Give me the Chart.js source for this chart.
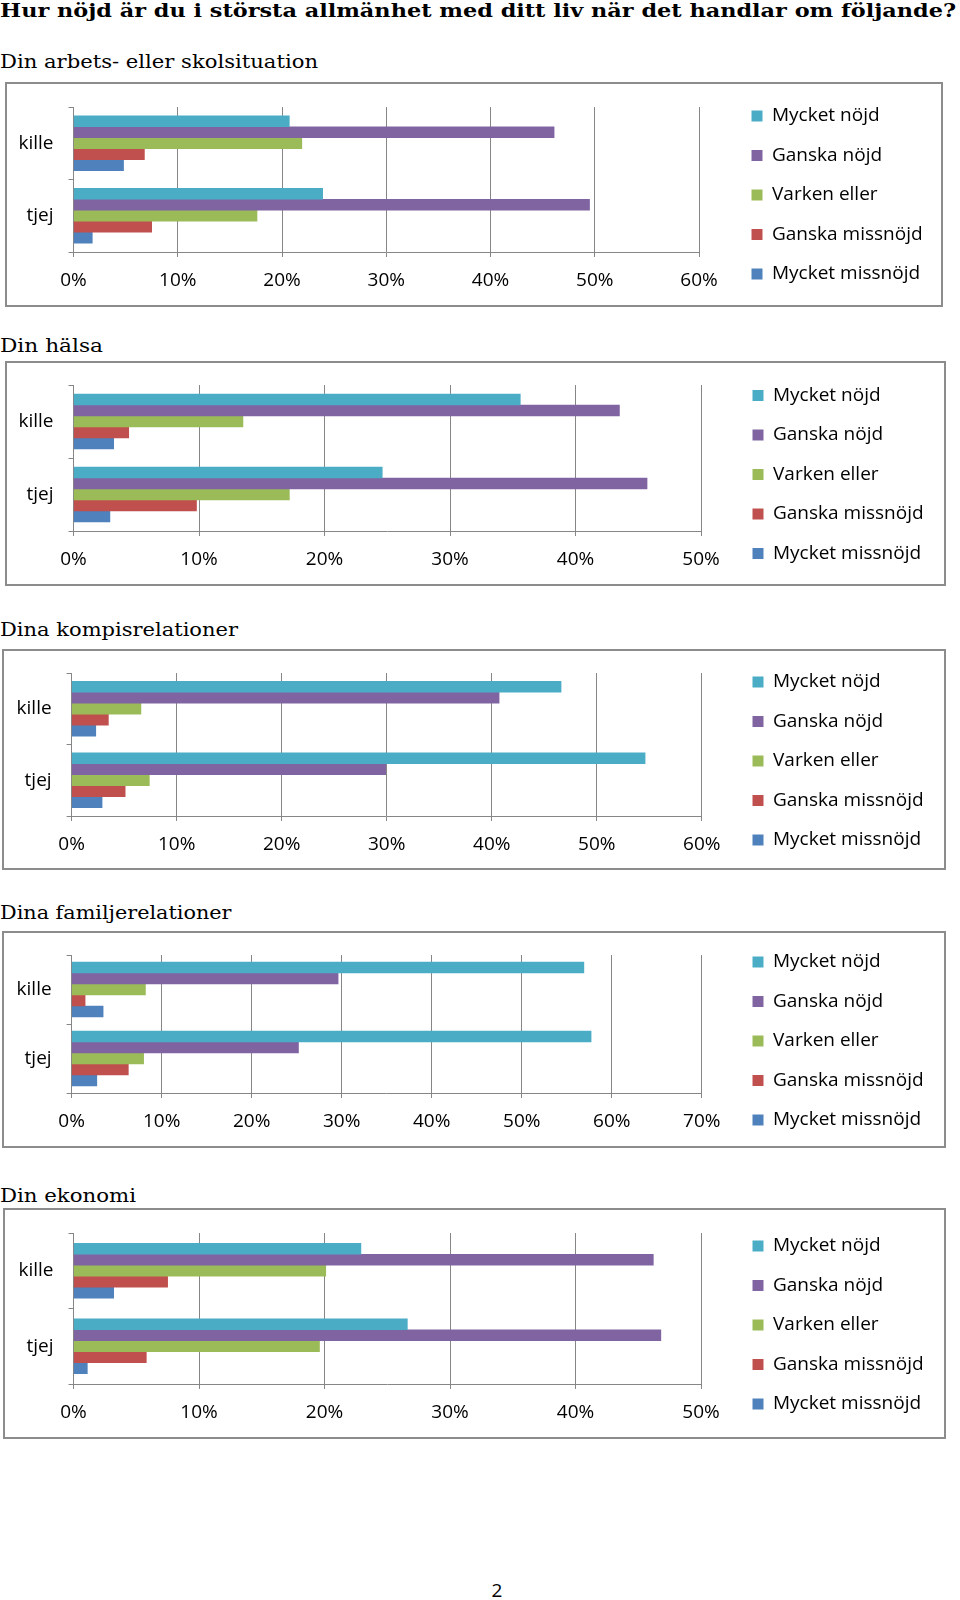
<!DOCTYPE html>
<html>
<head>
<meta charset="utf-8">
<script src="https://cdn.jsdelivr.net/npm/chart.js@4.4.1/dist/chart.umd.min.js"></script>
<style>
html,body{margin:0;padding:0;background:#fff;}
body{width:960px;height:1600px;position:relative;overflow:hidden;}
.t{position:absolute;white-space:nowrap;transform-origin:0 0;color:#000;line-height:1;}
.main{font-family:"DejaVu Serif";font-weight:bold;font-size:19px;}
.sec{font-family:"DejaVu Serif";font-weight:normal;font-size:19px;}
.pg{font-family:"Open Sans";font-size:19px;}
.box{position:absolute;border:2px solid #8c8c8c;box-sizing:border-box;background:#fff;}
.box canvas{position:absolute;left:0;top:0;}
</style>
</head>
<body>
<script>
// ---------------- data ----------------
const pageTitle = 'Hur nöjd är du i största allmänhet med ditt liv när det handlar om följande?';
const pageNumber = '2';
const categories = ['kille', 'tjej'];
const seriesNames = ['Mycket nöjd', 'Ganska nöjd', 'Varken eller', 'Ganska missnöjd', 'Mycket missnöjd'];
const seriesColors = ['#4BACC6', '#8064A2', '#9BBB59', '#C0504D', '#4F81BD'];
const chartTitles = ['Din arbets- eller skolsituation', 'Din hälsa', 'Dina kompisrelationer', 'Dina familjerelationer', 'Din ekonomi'];
const axisMaxima = [60, 50, 60, 70, 50];
const tickStep = 10;

// values in % (order follows seriesNames)
const arbeteKille  = [20.7, 46.1, 21.9, 6.8, 4.8];
const arbeteTjej   = [23.9, 49.5, 17.6, 7.5, 1.8];
const halsaKille   = [35.6, 43.5, 13.5, 4.4, 3.2];
const halsaTjej    = [24.6, 45.7, 17.2, 9.8, 2.9];
const kompisKille  = [46.6, 40.7, 6.6, 3.5, 2.3];
const kompisTjej   = [54.6, 29.9, 7.4, 5.1, 2.9];
const familjKille  = [56.9, 29.6, 8.2, 1.5, 3.5];
const familjTjej   = [57.7, 25.2, 8.0, 6.3, 2.8];
const ekonomiKille = [22.9, 46.2, 20.1, 7.5, 3.2];
const ekonomiTjej  = [26.6, 46.8, 19.6, 5.8, 1.1];

// ---------------- layout (page pixels) ----------------
const layout = [
  {box:[5,82,943,307],    plot:[73.5,107,699,252],    legendX:751.5, legendY:116,   titleBase:68,   titleW:318},
  {box:[5,361,946,586],   plot:[73.5,385,701,531],    legendX:752.5, legendY:395.5, titleBase:352,  titleW:103},
  {box:[2,649,946,870],   plot:[71.6,673,701.8,816],  legendX:752.5, legendY:682,   titleBase:636,  titleW:238},
  {box:[2,931,946,1148],  plot:[71.6,955,701.8,1093], legendX:752.5, legendY:962,   titleBase:919,  titleW:231.5},
  {box:[3,1208,946,1439], plot:[73.5,1233,701,1384],  legendX:752.5, legendY:1246,  titleBase:1202, titleW:136}
];
const GRID = '#868686';

function addText(text, cls, left, baseline, targetW, center) {
  const d = document.createElement('div');
  d.className = 't ' + cls;
  d.textContent = text;
  const mark = document.createElement('i');
  mark.style.cssText = 'display:inline-block;width:0;height:0;vertical-align:baseline;';
  d.appendChild(mark);
  document.body.appendChild(d);
  const w = d.getBoundingClientRect().width;
  const baseOff = mark.offsetTop;
  let sx = 1;
  if (targetW) sx = targetW / w;
  d.style.transform = 'scaleX(' + sx + ')';
  d.style.left = (center ? left - w * sx / 2 : left) + 'px';
  d.style.top = (baseline - baseOff) + 'px';
}

Chart.defaults.font.family = "'Open Sans', sans-serif";
Chart.defaults.font.size = 19;
Chart.defaults.color = '#000';

// keeps the legend at a fixed width and places its items
const legendPlace = {
  id: 'legendPlace',
  beforeLayout(chart, args, opts) {
    const lg = chart.legend;
    if (!lg || lg._placed) return;
    const fit = lg.fit;
    lg.fit = function () {
      const mh = this.maxHeight;
      this.maxHeight = 100000;
      fit.call(this);
      this.maxHeight = mh;
      this.width = opts.width;
      this.height = mh;
    };
    lg._placed = true;
  },
  afterLayout(chart, args, opts) {
    const lg = chart.legend;
    const p = lg.options.labels.padding;
    const w = lg.width;
    lg.left = opts.x - p;
    lg.right = lg.left + w;
    lg.top = opts.y - p;
    lg.bottom = lg.top + 2000;
  }
};

function makeChart(i, killeVals, tjejVals) {
  const L = layout[i];
  const [bl, bt, br, bb] = L.box;
  const [pl, pt, pr, pb] = L.plot;
  const div = document.createElement('div');
  div.className = 'box';
  div.style.left = bl + 'px';
  div.style.top = bt + 'px';
  div.style.width = (br - bl) + 'px';
  div.style.height = (bb - bt) + 'px';
  const cw = br - bl - 4, ch = bb - bt - 4;
  const ix = bl + 2, iy = bt + 2;
  const canvas = document.createElement('canvas');
  canvas.width = cw; canvas.height = ch;
  canvas.style.width = cw + 'px'; canvas.style.height = ch + 'px';
  div.appendChild(canvas);
  document.body.appendChild(div);

  const datasets = seriesNames.map((name, s) => ({
    label: name,
    data: [killeVals[s], tjejVals[s]],
    backgroundColor: seriesColors[s],
    borderWidth: 0,
    barThickness: 11,
    xAxisID: 'x',
    yAxisID: 'y'
  }));

  new Chart(canvas, {
    type: 'bar',
    data: { labels: categories, datasets },
    options: {
      indexAxis: 'y',
      responsive: false,
      animation: false,
      events: [],
      layout: { padding: { top: pt - iy, left: 0, right: 0, bottom: 0 } },
      scales: {
        x: {
          min: 0, max: axisMaxima[i],
          ticks: { stepSize: tickStep, callback: v => v + '%', color: '#000', font: { size: 19 }, padding: 12.5, maxRotation: 0 },
          grid: { color: GRID, lineWidth: 1, tickLength: 5, drawTicks: true },
          border: { color: GRID, width: 1 },
          afterFit(s) { s.height = (iy + ch) - pb; s.paddingLeft = 0; s.paddingRight = 0; }
        },
        y: {
          ticks: { color: '#000', font: { size: 19 }, padding: 15 },
          grid: { drawOnChartArea: false, drawTicks: true, tickLength: 5, color: GRID },
          border: { color: GRID, width: 1 },
          afterFit(s) { s.width = pl - ix; s.paddingTop = 0; s.paddingBottom = 0; }
        }
      },
      plugins: {
        legend: {
          position: 'right', align: 'start',
          labels: { boxWidth: 11, boxHeight: 11, padding: 20.5, color: '#000', font: { size: 19 } }
        },
        tooltip: { enabled: false },
        legendPlace: { width: (ix + cw) - pr, x: L.legendX - ix, y: L.legendY - 9.5 - iy }
      }
    },
    plugins: [legendPlace]
  });
}

addText(pageTitle, 'main', 0, 16.7, 956, false);
layout.forEach((L, i) => addText(chartTitles[i], 'sec', 0, L.titleBase, L.titleW, false));
addText(pageNumber, 'pg', 497, 1597, 0, true);

makeChart(0, arbeteKille, arbeteTjej);
makeChart(1, halsaKille, halsaTjej);
makeChart(2, kompisKille, kompisTjej);
makeChart(3, familjKille, familjTjej);
makeChart(4, ekonomiKille, ekonomiTjej);
</script>
</body>
</html>
